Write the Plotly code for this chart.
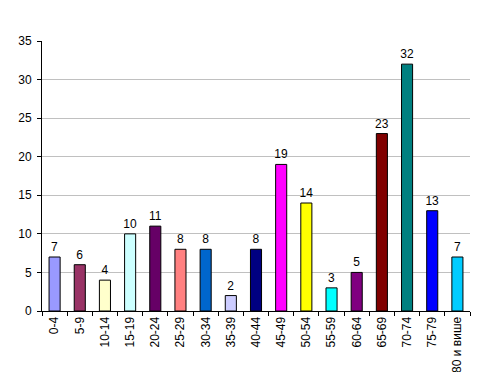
import plotly.graph_objects as go

categories = ["0-4", "5-9", "10-14", "15-19", "20-24", "25-29", "30-34", "35-39", "40-44",
              "45-49", "50-54", "55-59", "60-64", "65-69", "70-74", "75-79", "80 и више"]
values = [7, 6, 4, 10, 11, 8, 8, 2, 8, 19, 14, 3, 5, 23, 32, 13, 7]
colors = ["#9999FF", "#993366", "#FFFFCC", "#CCFFFF", "#660066", "#FF8080", "#0066CC", "#CCCCFF",
          "#000080", "#FF00FF", "#FFFF00", "#00FFFF", "#800080", "#800000", "#008080", "#0000FF", "#00CCFF"]
y_ticks = [0, 5, 10, 15, 20, 25, 30, 35]

fig = go.Figure(go.Bar(
    x=categories, y=values,
    marker=dict(color=colors, line=dict(color="black", width=1)),
    text=[str(v) for v in values], textposition="outside", cliponaxis=False,
    constraintext="none",
    textfont=dict(family="Liberation Sans, Arial", size=12, color="black"),
))
fig.update_layout(
    width=479, height=372,
    margin=dict(l=34, r=17, t=33, b=69),
    paper_bgcolor="white", plot_bgcolor="white",
    bargap=0.56, showlegend=False,
    font=dict(family="Liberation Sans, Arial", size=12, color="black"),
)
fig.update_xaxes(
    type="category", tickangle=-90, tickson="boundaries", ticks="outside", ticklen=4,
    tickcolor="black", showline=True, linecolor="black", linewidth=1, showgrid=False,
    tickfont=dict(size=12), automargin=False,
)
fig.update_yaxes(
    range=[0, 35], tickvals=y_ticks, ticks="outside", ticklen=4, tickcolor="black",
    showline=True, linecolor="black", linewidth=1, showgrid=True, gridcolor="#C0C0C0",
    gridwidth=1, zeroline=False, tickfont=dict(size=12), automargin=False,
    ticklabelstandoff=3,
)
fig.write_html("out.html")
